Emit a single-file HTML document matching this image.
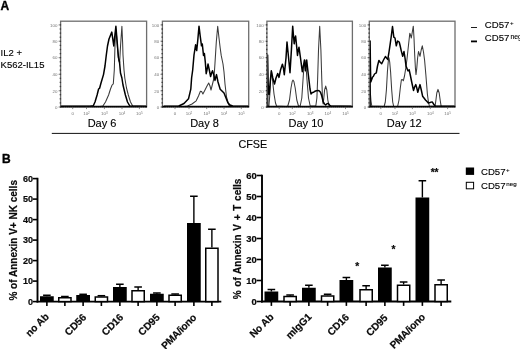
<!DOCTYPE html>
<html><head><meta charset="utf-8"><title>Figure</title>
<style>
html,body{margin:0;padding:0;background:#fff;}
body{width:520px;height:349px;overflow:hidden;}
svg{display:block;font-family:"Liberation Sans",Arial,sans-serif;}
.b{font-weight:bold;}
.tk{font-size:4.4px;fill:#747474;}
.day{font-size:11px;fill:#000;stroke:#000;stroke-width:0.12px;}
.yl{font-weight:bold;fill:#0a0a0a;stroke:#0a0a0a;stroke-width:0.2px;}
.xl{font-size:10.2px;font-weight:bold;fill:#0a0a0a;stroke:#0a0a0a;stroke-width:0.2px;}
.yt{font-weight:bold;fill:#0a0a0a;stroke:#0a0a0a;stroke-width:0.2px;}
.lg{font-size:9.6px;fill:#000;stroke:#000;stroke-width:0.12px;}
</style></head><body>
<svg width="520" height="349" viewBox="0 0 520 349">
<rect x="0" y="0" width="520" height="349" fill="#fff"/>

<text x="0.5" y="9.7" class="b" font-size="12px" fill="#000" stroke="#000" stroke-width="0.35">A</text>
<text x="2.1" y="163.2" class="b" font-size="12px" fill="#000" stroke="#000" stroke-width="0.35">B</text>
<text x="0.6" y="56.4" font-size="9.5px" fill="#000" stroke="#000" stroke-width="0.12">IL2 +</text>
<text x="0.6" y="68.1" font-size="9.5px" fill="#000" stroke="#000" stroke-width="0.12">K562-IL15</text>
<g>
<polyline points="61.0,106.5 100.0,106.5 102.9,106.0 105.5,102.0 108.6,95.0 110.5,89.0 112.1,85.0 113.3,83.8 114.3,70.0 115.0,45.0 115.6,28.5 116.6,36.0 117.5,48.0 118.6,60.0 119.6,63.0 120.6,45.0 121.9,26.3 122.6,42.0 123.0,55.0 124.0,70.0 124.8,78.0 126.5,88.0 128.3,95.0 130.5,102.0 132.7,106.0 146.0,106.5" fill="none" stroke="#3a3a3a" stroke-width="1.05" stroke-linejoin="round"/>
<polyline points="61.0,106.3 90.0,106.3 93.3,105.8 95.0,102.0 97.1,95.0 98.6,89.0 99.6,88.2 101.0,83.0 103.5,74.6 105.0,66.0 106.3,55.0 107.5,46.0 109.0,39.0 111.8,32.1 113.8,46.0 114.6,38.0 115.9,26.3 117.0,40.0 118.4,57.0 119.5,62.0 120.5,73.0 121.9,78.0 123.0,85.0 125.4,95.0 127.5,102.0 129.8,106.0 146.0,106.3" fill="none" stroke="#000" stroke-width="1.5" stroke-linejoin="round"/>
<rect x="60.6" y="21.2" width="86.0" height="85.6" fill="none" stroke="#6e6e6e" stroke-width="1.3"/>
<line x1="60.2" y1="106.6" x2="147.0" y2="106.6" stroke="#000" stroke-width="1.7"/>
<line x1="58.4" y1="24.9" x2="60.6" y2="24.9" stroke="#777" stroke-width="0.6"/>
<text x="57.4" y="26.6" class="tk" text-anchor="end">100</text>
<line x1="58.4" y1="41.2" x2="60.6" y2="41.2" stroke="#777" stroke-width="0.6"/>
<text x="57.4" y="42.9" class="tk" text-anchor="end">80</text>
<line x1="58.4" y1="57.7" x2="60.6" y2="57.7" stroke="#777" stroke-width="0.6"/>
<text x="57.4" y="59.4" class="tk" text-anchor="end">60</text>
<line x1="58.4" y1="74.3" x2="60.6" y2="74.3" stroke="#777" stroke-width="0.6"/>
<text x="57.4" y="76.0" class="tk" text-anchor="end">40</text>
<line x1="58.4" y1="90.8" x2="60.6" y2="90.8" stroke="#777" stroke-width="0.6"/>
<text x="57.4" y="92.5" class="tk" text-anchor="end">20</text>
<line x1="58.4" y1="107.0" x2="60.6" y2="107.0" stroke="#777" stroke-width="0.6"/>
<text x="57.4" y="108.7" class="tk" text-anchor="end">0</text>
<line x1="59.7" y1="24.9" x2="61.1" y2="24.9" stroke="#3a3a3a" stroke-width="1.3"/>
<line x1="59.7" y1="29.0" x2="61.1" y2="29.0" stroke="#3a3a3a" stroke-width="1.3"/>
<line x1="59.7" y1="33.1" x2="61.1" y2="33.1" stroke="#3a3a3a" stroke-width="1.3"/>
<line x1="59.7" y1="37.2" x2="61.1" y2="37.2" stroke="#3a3a3a" stroke-width="1.3"/>
<line x1="59.7" y1="41.3" x2="61.1" y2="41.3" stroke="#3a3a3a" stroke-width="1.3"/>
<line x1="59.7" y1="45.4" x2="61.1" y2="45.4" stroke="#3a3a3a" stroke-width="1.3"/>
<line x1="59.7" y1="49.5" x2="61.1" y2="49.5" stroke="#3a3a3a" stroke-width="1.3"/>
<line x1="59.7" y1="53.6" x2="61.1" y2="53.6" stroke="#3a3a3a" stroke-width="1.3"/>
<line x1="59.7" y1="57.7" x2="61.1" y2="57.7" stroke="#3a3a3a" stroke-width="1.3"/>
<line x1="59.7" y1="61.8" x2="61.1" y2="61.8" stroke="#3a3a3a" stroke-width="1.3"/>
<line x1="59.7" y1="65.9" x2="61.1" y2="65.9" stroke="#3a3a3a" stroke-width="1.3"/>
<line x1="59.7" y1="70.1" x2="61.1" y2="70.1" stroke="#3a3a3a" stroke-width="1.3"/>
<line x1="59.7" y1="74.2" x2="61.1" y2="74.2" stroke="#3a3a3a" stroke-width="1.3"/>
<line x1="59.7" y1="78.3" x2="61.1" y2="78.3" stroke="#3a3a3a" stroke-width="1.3"/>
<line x1="59.7" y1="82.4" x2="61.1" y2="82.4" stroke="#3a3a3a" stroke-width="1.3"/>
<line x1="59.7" y1="86.5" x2="61.1" y2="86.5" stroke="#3a3a3a" stroke-width="1.3"/>
<line x1="59.7" y1="90.6" x2="61.1" y2="90.6" stroke="#3a3a3a" stroke-width="1.3"/>
<line x1="59.7" y1="94.7" x2="61.1" y2="94.7" stroke="#3a3a3a" stroke-width="1.3"/>
<line x1="59.7" y1="98.8" x2="61.1" y2="98.8" stroke="#3a3a3a" stroke-width="1.3"/>
<line x1="59.7" y1="102.9" x2="61.1" y2="102.9" stroke="#3a3a3a" stroke-width="1.3"/>
<line x1="59.7" y1="107.0" x2="61.1" y2="107.0" stroke="#3a3a3a" stroke-width="1.3"/>
<text x="72.7" y="115.2" class="tk" text-anchor="middle">0</text>
<line x1="72.7" y1="106.8" x2="72.7" y2="109.1" stroke="#555" stroke-width="0.7"/>
<text x="86.5" y="115.2" class="tk" text-anchor="middle">10<tspan dy="-1.6" font-size="3px">2</tspan></text>
<line x1="86.5" y1="106.8" x2="86.5" y2="109.1" stroke="#555" stroke-width="0.7"/>
<text x="104.4" y="115.2" class="tk" text-anchor="middle">10<tspan dy="-1.6" font-size="3px">3</tspan></text>
<line x1="104.4" y1="106.8" x2="104.4" y2="109.1" stroke="#555" stroke-width="0.7"/>
<text x="122.0" y="115.2" class="tk" text-anchor="middle">10<tspan dy="-1.6" font-size="3px">4</tspan></text>
<line x1="122.0" y1="106.8" x2="122.0" y2="109.1" stroke="#555" stroke-width="0.7"/>
<text x="139.4" y="115.2" class="tk" text-anchor="middle">10<tspan dy="-1.6" font-size="3px">5</tspan></text>
<line x1="139.4" y1="106.8" x2="139.4" y2="109.1" stroke="#555" stroke-width="0.7"/>
<line x1="64.6" y1="106.8" x2="64.6" y2="107.9" stroke="#aaa" stroke-width="0.35"/>
<line x1="66.6" y1="106.8" x2="66.6" y2="107.9" stroke="#aaa" stroke-width="0.35"/>
<line x1="68.7" y1="106.8" x2="68.7" y2="107.9" stroke="#aaa" stroke-width="0.35"/>
<line x1="70.8" y1="106.8" x2="70.8" y2="107.9" stroke="#aaa" stroke-width="0.35"/>
<line x1="72.8" y1="106.8" x2="72.8" y2="107.9" stroke="#aaa" stroke-width="0.35"/>
<line x1="74.8" y1="106.8" x2="74.8" y2="107.9" stroke="#aaa" stroke-width="0.35"/>
<line x1="76.9" y1="106.8" x2="76.9" y2="107.9" stroke="#aaa" stroke-width="0.35"/>
<line x1="78.9" y1="106.8" x2="78.9" y2="107.9" stroke="#aaa" stroke-width="0.35"/>
<line x1="81.0" y1="106.8" x2="81.0" y2="107.9" stroke="#aaa" stroke-width="0.35"/>
<line x1="83.0" y1="106.8" x2="83.0" y2="107.9" stroke="#aaa" stroke-width="0.35"/>
<line x1="85.1" y1="106.8" x2="85.1" y2="107.9" stroke="#aaa" stroke-width="0.35"/>
<line x1="87.1" y1="106.8" x2="87.1" y2="107.9" stroke="#aaa" stroke-width="0.35"/>
<line x1="89.2" y1="106.8" x2="89.2" y2="107.9" stroke="#aaa" stroke-width="0.35"/>
<line x1="91.2" y1="106.8" x2="91.2" y2="107.9" stroke="#aaa" stroke-width="0.35"/>
<line x1="93.3" y1="106.8" x2="93.3" y2="107.9" stroke="#aaa" stroke-width="0.35"/>
<line x1="95.3" y1="106.8" x2="95.3" y2="107.9" stroke="#aaa" stroke-width="0.35"/>
<line x1="97.4" y1="106.8" x2="97.4" y2="107.9" stroke="#aaa" stroke-width="0.35"/>
<line x1="99.4" y1="106.8" x2="99.4" y2="107.9" stroke="#aaa" stroke-width="0.35"/>
<line x1="101.5" y1="106.8" x2="101.5" y2="107.9" stroke="#aaa" stroke-width="0.35"/>
<line x1="103.5" y1="106.8" x2="103.5" y2="107.9" stroke="#aaa" stroke-width="0.35"/>
<line x1="105.6" y1="106.8" x2="105.6" y2="107.9" stroke="#aaa" stroke-width="0.35"/>
<line x1="107.6" y1="106.8" x2="107.6" y2="107.9" stroke="#aaa" stroke-width="0.35"/>
<line x1="109.7" y1="106.8" x2="109.7" y2="107.9" stroke="#aaa" stroke-width="0.35"/>
<line x1="111.8" y1="106.8" x2="111.8" y2="107.9" stroke="#aaa" stroke-width="0.35"/>
<line x1="113.8" y1="106.8" x2="113.8" y2="107.9" stroke="#aaa" stroke-width="0.35"/>
<line x1="115.8" y1="106.8" x2="115.8" y2="107.9" stroke="#aaa" stroke-width="0.35"/>
<line x1="117.9" y1="106.8" x2="117.9" y2="107.9" stroke="#aaa" stroke-width="0.35"/>
<line x1="119.9" y1="106.8" x2="119.9" y2="107.9" stroke="#aaa" stroke-width="0.35"/>
<line x1="122.0" y1="106.8" x2="122.0" y2="107.9" stroke="#aaa" stroke-width="0.35"/>
<line x1="124.0" y1="106.8" x2="124.0" y2="107.9" stroke="#aaa" stroke-width="0.35"/>
<line x1="126.1" y1="106.8" x2="126.1" y2="107.9" stroke="#aaa" stroke-width="0.35"/>
<line x1="128.1" y1="106.8" x2="128.1" y2="107.9" stroke="#aaa" stroke-width="0.35"/>
<line x1="130.2" y1="106.8" x2="130.2" y2="107.9" stroke="#aaa" stroke-width="0.35"/>
<line x1="132.2" y1="106.8" x2="132.2" y2="107.9" stroke="#aaa" stroke-width="0.35"/>
<line x1="134.3" y1="106.8" x2="134.3" y2="107.9" stroke="#aaa" stroke-width="0.35"/>
<line x1="136.3" y1="106.8" x2="136.3" y2="107.9" stroke="#aaa" stroke-width="0.35"/>
<line x1="138.4" y1="106.8" x2="138.4" y2="107.9" stroke="#aaa" stroke-width="0.35"/>
<line x1="140.4" y1="106.8" x2="140.4" y2="107.9" stroke="#aaa" stroke-width="0.35"/>
<line x1="142.5" y1="106.8" x2="142.5" y2="107.9" stroke="#aaa" stroke-width="0.35"/>
<line x1="144.5" y1="106.8" x2="144.5" y2="107.9" stroke="#aaa" stroke-width="0.35"/>
<text x="102.0" y="126.9" class="day" text-anchor="middle">Day 6</text>
</g>
<g>
<polyline points="163.8,106.5 184.0,106.5 187.5,106.0 192.0,104.0 196.2,100.8 198.5,96.0 200.4,91.2 201.6,91.5 202.9,94.0 205.0,90.0 207.0,86.0 208.7,83.0 210.0,86.0 211.0,90.0 212.5,84.0 213.5,80.0 214.4,72.0 215.0,63.0 216.3,42.0 217.7,26.2 219.0,38.0 220.2,48.0 221.2,55.4 223.0,64.0 224.0,72.0 225.0,84.0 226.5,97.0 228.8,105.0 231.0,106.5 249.0,106.5" fill="none" stroke="#3a3a3a" stroke-width="1.05" stroke-linejoin="round"/>
<polyline points="163.8,106.3 175.0,106.3 178.8,106.0 184.0,103.5 188.5,98.8 190.8,89.2 191.6,78.0 192.7,70.0 194.0,55.0 195.6,44.8 196.7,50.6 197.8,40.0 199.0,26.2 200.2,36.0 201.5,45.8 202.3,44.0 203.5,55.4 204.4,53.5 205.3,62.0 206.2,73.7 207.0,70.0 208.0,64.0 209.3,70.0 210.6,76.5 211.6,73.0 212.5,70.8 213.8,75.0 215.0,80.4 215.8,77.0 216.5,74.6 218.0,82.0 220.2,89.2 222.0,91.0 224.0,93.0 226.0,98.0 227.9,102.7 230.0,105.0 232.7,106.0 249.0,106.3" fill="none" stroke="#000" stroke-width="1.5" stroke-linejoin="round"/>
<rect x="162.4" y="21.2" width="86.3" height="85.6" fill="none" stroke="#6e6e6e" stroke-width="1.3"/>
<line x1="162.0" y1="106.6" x2="249.1" y2="106.6" stroke="#000" stroke-width="1.7"/>
<line x1="160.2" y1="24.9" x2="162.4" y2="24.9" stroke="#777" stroke-width="0.6"/>
<text x="159.2" y="26.6" class="tk" text-anchor="end">100</text>
<line x1="160.2" y1="41.2" x2="162.4" y2="41.2" stroke="#777" stroke-width="0.6"/>
<text x="159.2" y="42.9" class="tk" text-anchor="end">80</text>
<line x1="160.2" y1="57.7" x2="162.4" y2="57.7" stroke="#777" stroke-width="0.6"/>
<text x="159.2" y="59.4" class="tk" text-anchor="end">60</text>
<line x1="160.2" y1="74.3" x2="162.4" y2="74.3" stroke="#777" stroke-width="0.6"/>
<text x="159.2" y="76.0" class="tk" text-anchor="end">40</text>
<line x1="160.2" y1="90.8" x2="162.4" y2="90.8" stroke="#777" stroke-width="0.6"/>
<text x="159.2" y="92.5" class="tk" text-anchor="end">20</text>
<line x1="160.2" y1="107.0" x2="162.4" y2="107.0" stroke="#777" stroke-width="0.6"/>
<text x="159.2" y="108.7" class="tk" text-anchor="end">0</text>
<line x1="161.5" y1="24.9" x2="162.9" y2="24.9" stroke="#3a3a3a" stroke-width="1.3"/>
<line x1="161.5" y1="29.0" x2="162.9" y2="29.0" stroke="#3a3a3a" stroke-width="1.3"/>
<line x1="161.5" y1="33.1" x2="162.9" y2="33.1" stroke="#3a3a3a" stroke-width="1.3"/>
<line x1="161.5" y1="37.2" x2="162.9" y2="37.2" stroke="#3a3a3a" stroke-width="1.3"/>
<line x1="161.5" y1="41.3" x2="162.9" y2="41.3" stroke="#3a3a3a" stroke-width="1.3"/>
<line x1="161.5" y1="45.4" x2="162.9" y2="45.4" stroke="#3a3a3a" stroke-width="1.3"/>
<line x1="161.5" y1="49.5" x2="162.9" y2="49.5" stroke="#3a3a3a" stroke-width="1.3"/>
<line x1="161.5" y1="53.6" x2="162.9" y2="53.6" stroke="#3a3a3a" stroke-width="1.3"/>
<line x1="161.5" y1="57.7" x2="162.9" y2="57.7" stroke="#3a3a3a" stroke-width="1.3"/>
<line x1="161.5" y1="61.8" x2="162.9" y2="61.8" stroke="#3a3a3a" stroke-width="1.3"/>
<line x1="161.5" y1="65.9" x2="162.9" y2="65.9" stroke="#3a3a3a" stroke-width="1.3"/>
<line x1="161.5" y1="70.1" x2="162.9" y2="70.1" stroke="#3a3a3a" stroke-width="1.3"/>
<line x1="161.5" y1="74.2" x2="162.9" y2="74.2" stroke="#3a3a3a" stroke-width="1.3"/>
<line x1="161.5" y1="78.3" x2="162.9" y2="78.3" stroke="#3a3a3a" stroke-width="1.3"/>
<line x1="161.5" y1="82.4" x2="162.9" y2="82.4" stroke="#3a3a3a" stroke-width="1.3"/>
<line x1="161.5" y1="86.5" x2="162.9" y2="86.5" stroke="#3a3a3a" stroke-width="1.3"/>
<line x1="161.5" y1="90.6" x2="162.9" y2="90.6" stroke="#3a3a3a" stroke-width="1.3"/>
<line x1="161.5" y1="94.7" x2="162.9" y2="94.7" stroke="#3a3a3a" stroke-width="1.3"/>
<line x1="161.5" y1="98.8" x2="162.9" y2="98.8" stroke="#3a3a3a" stroke-width="1.3"/>
<line x1="161.5" y1="102.9" x2="162.9" y2="102.9" stroke="#3a3a3a" stroke-width="1.3"/>
<line x1="161.5" y1="107.0" x2="162.9" y2="107.0" stroke="#3a3a3a" stroke-width="1.3"/>
<text x="175.0" y="115.2" class="tk" text-anchor="middle">0</text>
<line x1="175.0" y1="106.8" x2="175.0" y2="109.1" stroke="#555" stroke-width="0.7"/>
<text x="189.0" y="115.2" class="tk" text-anchor="middle">10<tspan dy="-1.6" font-size="3px">2</tspan></text>
<line x1="189.0" y1="106.8" x2="189.0" y2="109.1" stroke="#555" stroke-width="0.7"/>
<text x="206.7" y="115.2" class="tk" text-anchor="middle">10<tspan dy="-1.6" font-size="3px">3</tspan></text>
<line x1="206.7" y1="106.8" x2="206.7" y2="109.1" stroke="#555" stroke-width="0.7"/>
<text x="224.0" y="115.2" class="tk" text-anchor="middle">10<tspan dy="-1.6" font-size="3px">4</tspan></text>
<line x1="224.0" y1="106.8" x2="224.0" y2="109.1" stroke="#555" stroke-width="0.7"/>
<text x="241.3" y="115.2" class="tk" text-anchor="middle">10<tspan dy="-1.6" font-size="3px">5</tspan></text>
<line x1="241.3" y1="106.8" x2="241.3" y2="109.1" stroke="#555" stroke-width="0.7"/>
<line x1="166.4" y1="106.8" x2="166.4" y2="107.9" stroke="#aaa" stroke-width="0.35"/>
<line x1="168.5" y1="106.8" x2="168.5" y2="107.9" stroke="#aaa" stroke-width="0.35"/>
<line x1="170.5" y1="106.8" x2="170.5" y2="107.9" stroke="#aaa" stroke-width="0.35"/>
<line x1="172.6" y1="106.8" x2="172.6" y2="107.9" stroke="#aaa" stroke-width="0.35"/>
<line x1="174.6" y1="106.8" x2="174.6" y2="107.9" stroke="#aaa" stroke-width="0.35"/>
<line x1="176.7" y1="106.8" x2="176.7" y2="107.9" stroke="#aaa" stroke-width="0.35"/>
<line x1="178.7" y1="106.8" x2="178.7" y2="107.9" stroke="#aaa" stroke-width="0.35"/>
<line x1="180.8" y1="106.8" x2="180.8" y2="107.9" stroke="#aaa" stroke-width="0.35"/>
<line x1="182.8" y1="106.8" x2="182.8" y2="107.9" stroke="#aaa" stroke-width="0.35"/>
<line x1="184.8" y1="106.8" x2="184.8" y2="107.9" stroke="#aaa" stroke-width="0.35"/>
<line x1="186.9" y1="106.8" x2="186.9" y2="107.9" stroke="#aaa" stroke-width="0.35"/>
<line x1="188.9" y1="106.8" x2="188.9" y2="107.9" stroke="#aaa" stroke-width="0.35"/>
<line x1="191.0" y1="106.8" x2="191.0" y2="107.9" stroke="#aaa" stroke-width="0.35"/>
<line x1="193.1" y1="106.8" x2="193.1" y2="107.9" stroke="#aaa" stroke-width="0.35"/>
<line x1="195.1" y1="106.8" x2="195.1" y2="107.9" stroke="#aaa" stroke-width="0.35"/>
<line x1="197.2" y1="106.8" x2="197.2" y2="107.9" stroke="#aaa" stroke-width="0.35"/>
<line x1="199.2" y1="106.8" x2="199.2" y2="107.9" stroke="#aaa" stroke-width="0.35"/>
<line x1="201.2" y1="106.8" x2="201.2" y2="107.9" stroke="#aaa" stroke-width="0.35"/>
<line x1="203.3" y1="106.8" x2="203.3" y2="107.9" stroke="#aaa" stroke-width="0.35"/>
<line x1="205.3" y1="106.8" x2="205.3" y2="107.9" stroke="#aaa" stroke-width="0.35"/>
<line x1="207.4" y1="106.8" x2="207.4" y2="107.9" stroke="#aaa" stroke-width="0.35"/>
<line x1="209.4" y1="106.8" x2="209.4" y2="107.9" stroke="#aaa" stroke-width="0.35"/>
<line x1="211.5" y1="106.8" x2="211.5" y2="107.9" stroke="#aaa" stroke-width="0.35"/>
<line x1="213.6" y1="106.8" x2="213.6" y2="107.9" stroke="#aaa" stroke-width="0.35"/>
<line x1="215.6" y1="106.8" x2="215.6" y2="107.9" stroke="#aaa" stroke-width="0.35"/>
<line x1="217.7" y1="106.8" x2="217.7" y2="107.9" stroke="#aaa" stroke-width="0.35"/>
<line x1="219.7" y1="106.8" x2="219.7" y2="107.9" stroke="#aaa" stroke-width="0.35"/>
<line x1="221.8" y1="106.8" x2="221.8" y2="107.9" stroke="#aaa" stroke-width="0.35"/>
<line x1="223.8" y1="106.8" x2="223.8" y2="107.9" stroke="#aaa" stroke-width="0.35"/>
<line x1="225.8" y1="106.8" x2="225.8" y2="107.9" stroke="#aaa" stroke-width="0.35"/>
<line x1="227.9" y1="106.8" x2="227.9" y2="107.9" stroke="#aaa" stroke-width="0.35"/>
<line x1="229.9" y1="106.8" x2="229.9" y2="107.9" stroke="#aaa" stroke-width="0.35"/>
<line x1="232.0" y1="106.8" x2="232.0" y2="107.9" stroke="#aaa" stroke-width="0.35"/>
<line x1="234.1" y1="106.8" x2="234.1" y2="107.9" stroke="#aaa" stroke-width="0.35"/>
<line x1="236.1" y1="106.8" x2="236.1" y2="107.9" stroke="#aaa" stroke-width="0.35"/>
<line x1="238.2" y1="106.8" x2="238.2" y2="107.9" stroke="#aaa" stroke-width="0.35"/>
<line x1="240.2" y1="106.8" x2="240.2" y2="107.9" stroke="#aaa" stroke-width="0.35"/>
<line x1="242.2" y1="106.8" x2="242.2" y2="107.9" stroke="#aaa" stroke-width="0.35"/>
<line x1="244.3" y1="106.8" x2="244.3" y2="107.9" stroke="#aaa" stroke-width="0.35"/>
<line x1="246.3" y1="106.8" x2="246.3" y2="107.9" stroke="#aaa" stroke-width="0.35"/>
<text x="204.5" y="126.9" class="day" text-anchor="middle">Day 8</text>
</g>
<g>
<polyline points="267.0,106.5 268.9,106.0 269.8,95.0 270.6,80.0 271.5,71.0 272.5,80.0 274.0,94.0 275.5,103.0 276.6,106.0 286.5,106.5 287.8,106.0 289.5,100.0 291.0,88.0 292.2,81.5 293.0,80.1 293.9,81.5 295.2,88.0 296.8,100.0 298.5,106.0 300.2,106.0 301.8,98.0 303.0,80.0 304.0,66.0 305.0,60.0 306.0,66.0 307.0,80.0 308.5,98.0 310.2,106.0 315.8,106.0 316.9,98.0 317.6,80.0 318.5,50.0 319.7,26.2 320.9,50.0 321.8,80.0 322.5,98.0 323.1,104.0 323.6,100.0 324.6,90.0 325.7,86.1 326.8,90.0 327.8,100.0 329.1,106.0 351.5,106.5" fill="none" stroke="#3a3a3a" stroke-width="1.05" stroke-linejoin="round"/>
<polyline points="267.7,106.0 267.6,55.0 268.2,85.0 269.2,94.5 270.2,82.0 271.3,70.8 272.8,78.0 274.5,84.0 276.0,78.0 277.7,73.4 279.0,77.4 280.5,70.0 282.4,64.2 283.4,68.0 284.3,74.7 286.0,58.0 287.0,42.0 288.4,56.0 290.0,72.7 291.4,50.0 292.7,26.2 293.5,36.0 294.2,43.8 295.0,38.0 295.6,36.0 296.6,46.0 297.5,55.4 298.3,50.0 299.0,47.3 300.5,58.0 302.3,71.7 303.4,66.0 304.4,60.0 305.4,70.8 306.7,60.0 308.0,72.0 309.2,82.0 310.0,89.0 311.0,93.9 312.4,92.5 313.6,92.2 315.5,91.0 317.9,90.4 319.4,91.0 320.5,92.2 321.8,96.0 323.1,101.6 324.5,104.0 325.7,105.0 327.0,103.8 328.3,103.4 329.5,105.0 330.8,106.0 351.5,106.3" fill="none" stroke="#000" stroke-width="1.5" stroke-linejoin="round"/>
<rect x="266.9" y="21.2" width="85.5" height="85.6" fill="none" stroke="#6e6e6e" stroke-width="1.3"/>
<line x1="266.5" y1="106.6" x2="352.8" y2="106.6" stroke="#000" stroke-width="1.7"/>
<line x1="264.7" y1="24.9" x2="266.9" y2="24.9" stroke="#777" stroke-width="0.6"/>
<text x="263.7" y="26.6" class="tk" text-anchor="end">100</text>
<line x1="264.7" y1="41.2" x2="266.9" y2="41.2" stroke="#777" stroke-width="0.6"/>
<text x="263.7" y="42.9" class="tk" text-anchor="end">80</text>
<line x1="264.7" y1="57.7" x2="266.9" y2="57.7" stroke="#777" stroke-width="0.6"/>
<text x="263.7" y="59.4" class="tk" text-anchor="end">60</text>
<line x1="264.7" y1="74.3" x2="266.9" y2="74.3" stroke="#777" stroke-width="0.6"/>
<text x="263.7" y="76.0" class="tk" text-anchor="end">40</text>
<line x1="264.7" y1="90.8" x2="266.9" y2="90.8" stroke="#777" stroke-width="0.6"/>
<text x="263.7" y="92.5" class="tk" text-anchor="end">20</text>
<line x1="264.7" y1="107.0" x2="266.9" y2="107.0" stroke="#777" stroke-width="0.6"/>
<text x="263.7" y="108.7" class="tk" text-anchor="end">0</text>
<line x1="266.0" y1="24.9" x2="267.4" y2="24.9" stroke="#3a3a3a" stroke-width="1.3"/>
<line x1="266.0" y1="29.0" x2="267.4" y2="29.0" stroke="#3a3a3a" stroke-width="1.3"/>
<line x1="266.0" y1="33.1" x2="267.4" y2="33.1" stroke="#3a3a3a" stroke-width="1.3"/>
<line x1="266.0" y1="37.2" x2="267.4" y2="37.2" stroke="#3a3a3a" stroke-width="1.3"/>
<line x1="266.0" y1="41.3" x2="267.4" y2="41.3" stroke="#3a3a3a" stroke-width="1.3"/>
<line x1="266.0" y1="45.4" x2="267.4" y2="45.4" stroke="#3a3a3a" stroke-width="1.3"/>
<line x1="266.0" y1="49.5" x2="267.4" y2="49.5" stroke="#3a3a3a" stroke-width="1.3"/>
<line x1="266.0" y1="53.6" x2="267.4" y2="53.6" stroke="#3a3a3a" stroke-width="1.3"/>
<line x1="266.0" y1="57.7" x2="267.4" y2="57.7" stroke="#3a3a3a" stroke-width="1.3"/>
<line x1="266.0" y1="61.8" x2="267.4" y2="61.8" stroke="#3a3a3a" stroke-width="1.3"/>
<line x1="266.0" y1="65.9" x2="267.4" y2="65.9" stroke="#3a3a3a" stroke-width="1.3"/>
<line x1="266.0" y1="70.1" x2="267.4" y2="70.1" stroke="#3a3a3a" stroke-width="1.3"/>
<line x1="266.0" y1="74.2" x2="267.4" y2="74.2" stroke="#3a3a3a" stroke-width="1.3"/>
<line x1="266.0" y1="78.3" x2="267.4" y2="78.3" stroke="#3a3a3a" stroke-width="1.3"/>
<line x1="266.0" y1="82.4" x2="267.4" y2="82.4" stroke="#3a3a3a" stroke-width="1.3"/>
<line x1="266.0" y1="86.5" x2="267.4" y2="86.5" stroke="#3a3a3a" stroke-width="1.3"/>
<line x1="266.0" y1="90.6" x2="267.4" y2="90.6" stroke="#3a3a3a" stroke-width="1.3"/>
<line x1="266.0" y1="94.7" x2="267.4" y2="94.7" stroke="#3a3a3a" stroke-width="1.3"/>
<line x1="266.0" y1="98.8" x2="267.4" y2="98.8" stroke="#3a3a3a" stroke-width="1.3"/>
<line x1="266.0" y1="102.9" x2="267.4" y2="102.9" stroke="#3a3a3a" stroke-width="1.3"/>
<line x1="266.0" y1="107.0" x2="267.4" y2="107.0" stroke="#3a3a3a" stroke-width="1.3"/>
<text x="279.2" y="115.2" class="tk" text-anchor="middle">0</text>
<line x1="279.2" y1="106.8" x2="279.2" y2="109.1" stroke="#555" stroke-width="0.7"/>
<text x="292.3" y="115.2" class="tk" text-anchor="middle">10<tspan dy="-1.6" font-size="3px">2</tspan></text>
<line x1="292.3" y1="106.8" x2="292.3" y2="109.1" stroke="#555" stroke-width="0.7"/>
<text x="310.2" y="115.2" class="tk" text-anchor="middle">10<tspan dy="-1.6" font-size="3px">3</tspan></text>
<line x1="310.2" y1="106.8" x2="310.2" y2="109.1" stroke="#555" stroke-width="0.7"/>
<text x="327.9" y="115.2" class="tk" text-anchor="middle">10<tspan dy="-1.6" font-size="3px">4</tspan></text>
<line x1="327.9" y1="106.8" x2="327.9" y2="109.1" stroke="#555" stroke-width="0.7"/>
<text x="345.5" y="115.2" class="tk" text-anchor="middle">10<tspan dy="-1.6" font-size="3px">5</tspan></text>
<line x1="345.5" y1="106.8" x2="345.5" y2="109.1" stroke="#555" stroke-width="0.7"/>
<line x1="270.9" y1="106.8" x2="270.9" y2="107.9" stroke="#aaa" stroke-width="0.35"/>
<line x1="272.9" y1="106.8" x2="272.9" y2="107.9" stroke="#aaa" stroke-width="0.35"/>
<line x1="275.0" y1="106.8" x2="275.0" y2="107.9" stroke="#aaa" stroke-width="0.35"/>
<line x1="277.0" y1="106.8" x2="277.0" y2="107.9" stroke="#aaa" stroke-width="0.35"/>
<line x1="279.1" y1="106.8" x2="279.1" y2="107.9" stroke="#aaa" stroke-width="0.35"/>
<line x1="281.1" y1="106.8" x2="281.1" y2="107.9" stroke="#aaa" stroke-width="0.35"/>
<line x1="283.2" y1="106.8" x2="283.2" y2="107.9" stroke="#aaa" stroke-width="0.35"/>
<line x1="285.2" y1="106.8" x2="285.2" y2="107.9" stroke="#aaa" stroke-width="0.35"/>
<line x1="287.3" y1="106.8" x2="287.3" y2="107.9" stroke="#aaa" stroke-width="0.35"/>
<line x1="289.3" y1="106.8" x2="289.3" y2="107.9" stroke="#aaa" stroke-width="0.35"/>
<line x1="291.4" y1="106.8" x2="291.4" y2="107.9" stroke="#aaa" stroke-width="0.35"/>
<line x1="293.4" y1="106.8" x2="293.4" y2="107.9" stroke="#aaa" stroke-width="0.35"/>
<line x1="295.5" y1="106.8" x2="295.5" y2="107.9" stroke="#aaa" stroke-width="0.35"/>
<line x1="297.5" y1="106.8" x2="297.5" y2="107.9" stroke="#aaa" stroke-width="0.35"/>
<line x1="299.6" y1="106.8" x2="299.6" y2="107.9" stroke="#aaa" stroke-width="0.35"/>
<line x1="301.6" y1="106.8" x2="301.6" y2="107.9" stroke="#aaa" stroke-width="0.35"/>
<line x1="303.7" y1="106.8" x2="303.7" y2="107.9" stroke="#aaa" stroke-width="0.35"/>
<line x1="305.8" y1="106.8" x2="305.8" y2="107.9" stroke="#aaa" stroke-width="0.35"/>
<line x1="307.8" y1="106.8" x2="307.8" y2="107.9" stroke="#aaa" stroke-width="0.35"/>
<line x1="309.8" y1="106.8" x2="309.8" y2="107.9" stroke="#aaa" stroke-width="0.35"/>
<line x1="311.9" y1="106.8" x2="311.9" y2="107.9" stroke="#aaa" stroke-width="0.35"/>
<line x1="313.9" y1="106.8" x2="313.9" y2="107.9" stroke="#aaa" stroke-width="0.35"/>
<line x1="316.0" y1="106.8" x2="316.0" y2="107.9" stroke="#aaa" stroke-width="0.35"/>
<line x1="318.0" y1="106.8" x2="318.0" y2="107.9" stroke="#aaa" stroke-width="0.35"/>
<line x1="320.1" y1="106.8" x2="320.1" y2="107.9" stroke="#aaa" stroke-width="0.35"/>
<line x1="322.1" y1="106.8" x2="322.1" y2="107.9" stroke="#aaa" stroke-width="0.35"/>
<line x1="324.2" y1="106.8" x2="324.2" y2="107.9" stroke="#aaa" stroke-width="0.35"/>
<line x1="326.2" y1="106.8" x2="326.2" y2="107.9" stroke="#aaa" stroke-width="0.35"/>
<line x1="328.3" y1="106.8" x2="328.3" y2="107.9" stroke="#aaa" stroke-width="0.35"/>
<line x1="330.3" y1="106.8" x2="330.3" y2="107.9" stroke="#aaa" stroke-width="0.35"/>
<line x1="332.4" y1="106.8" x2="332.4" y2="107.9" stroke="#aaa" stroke-width="0.35"/>
<line x1="334.4" y1="106.8" x2="334.4" y2="107.9" stroke="#aaa" stroke-width="0.35"/>
<line x1="336.5" y1="106.8" x2="336.5" y2="107.9" stroke="#aaa" stroke-width="0.35"/>
<line x1="338.5" y1="106.8" x2="338.5" y2="107.9" stroke="#aaa" stroke-width="0.35"/>
<line x1="340.6" y1="106.8" x2="340.6" y2="107.9" stroke="#aaa" stroke-width="0.35"/>
<line x1="342.6" y1="106.8" x2="342.6" y2="107.9" stroke="#aaa" stroke-width="0.35"/>
<line x1="344.7" y1="106.8" x2="344.7" y2="107.9" stroke="#aaa" stroke-width="0.35"/>
<line x1="346.8" y1="106.8" x2="346.8" y2="107.9" stroke="#aaa" stroke-width="0.35"/>
<line x1="348.8" y1="106.8" x2="348.8" y2="107.9" stroke="#aaa" stroke-width="0.35"/>
<line x1="350.8" y1="106.8" x2="350.8" y2="107.9" stroke="#aaa" stroke-width="0.35"/>
<text x="306.0" y="126.9" class="day" text-anchor="middle">Day 10</text>
</g>
<g>
<polyline points="369.5,82.7 370.3,92.0 371.0,101.0 371.8,106.0 384.1,106.5 385.3,102.0 386.4,90.0 387.4,72.0 388.2,62.0 388.9,57.7 389.7,62.0 390.6,72.0 391.7,90.0 392.7,102.0 393.7,106.5 397.6,106.5 399.0,100.0 400.3,88.0 401.4,79.8 402.3,79.5 403.3,80.8 404.5,76.0 405.8,68.0 407.0,59.0 408.4,46.0 409.8,33.3 410.5,35.0 411.3,38.0 412.3,32.0 413.3,26.2 414.0,38.0 414.7,55.0 415.4,68.0 416.0,74.6 416.8,68.0 417.6,58.0 418.5,51.5 419.3,54.0 420.0,56.3 421.2,50.0 422.3,45.8 423.5,52.0 424.6,60.2 425.8,74.0 427.4,94.2 428.3,101.0 429.3,106.0 435.0,106.5 435.8,101.0 436.8,93.0 438.0,89.4 439.2,93.0 440.3,101.0 441.2,106.5 454.8,106.5" fill="none" stroke="#3a3a3a" stroke-width="1.05" stroke-linejoin="round"/>
<polyline points="370.1,106.0 370.1,41.0 370.5,70.0 370.8,82.0 372.6,77.0 373.3,76.5 374.5,74.0 376.3,72.8 377.5,66.0 378.9,60.4 380.0,62.0 381.7,63.8 383.5,60.0 385.4,56.5 386.6,58.0 387.8,59.4 389.0,52.0 390.2,43.8 391.3,36.0 392.5,26.5 393.2,32.0 393.8,37.1 395.0,38.0 396.3,45.8 397.0,43.0 397.7,41.0 399.2,42.0 400.2,46.0 401.2,50.6 402.7,56.3 404.0,51.5 405.0,58.0 406.0,66.0 407.9,70.8 409.2,69.8 410.5,76.0 411.7,82.0 413.5,90.4 414.6,87.0 415.8,84.6 416.8,88.0 417.8,92.3 419.0,88.0 420.0,84.6 421.3,90.0 422.6,96.2 424.0,98.0 425.5,100.0 427.0,101.5 428.3,102.9 430.0,102.5 432.2,101.9 433.6,104.0 435.0,106.0 454.8,106.3" fill="none" stroke="#000" stroke-width="1.5" stroke-linejoin="round"/>
<rect x="369.3" y="21.2" width="85.7" height="85.6" fill="none" stroke="#6e6e6e" stroke-width="1.3"/>
<line x1="368.9" y1="106.6" x2="455.4" y2="106.6" stroke="#000" stroke-width="1.7"/>
<line x1="367.1" y1="24.9" x2="369.3" y2="24.9" stroke="#777" stroke-width="0.6"/>
<text x="366.1" y="26.6" class="tk" text-anchor="end">100</text>
<line x1="367.1" y1="41.2" x2="369.3" y2="41.2" stroke="#777" stroke-width="0.6"/>
<text x="366.1" y="42.9" class="tk" text-anchor="end">80</text>
<line x1="367.1" y1="57.7" x2="369.3" y2="57.7" stroke="#777" stroke-width="0.6"/>
<text x="366.1" y="59.4" class="tk" text-anchor="end">60</text>
<line x1="367.1" y1="74.3" x2="369.3" y2="74.3" stroke="#777" stroke-width="0.6"/>
<text x="366.1" y="76.0" class="tk" text-anchor="end">40</text>
<line x1="367.1" y1="90.8" x2="369.3" y2="90.8" stroke="#777" stroke-width="0.6"/>
<text x="366.1" y="92.5" class="tk" text-anchor="end">20</text>
<line x1="367.1" y1="107.0" x2="369.3" y2="107.0" stroke="#777" stroke-width="0.6"/>
<text x="366.1" y="108.7" class="tk" text-anchor="end">0</text>
<line x1="368.4" y1="24.9" x2="369.8" y2="24.9" stroke="#3a3a3a" stroke-width="1.3"/>
<line x1="368.4" y1="29.0" x2="369.8" y2="29.0" stroke="#3a3a3a" stroke-width="1.3"/>
<line x1="368.4" y1="33.1" x2="369.8" y2="33.1" stroke="#3a3a3a" stroke-width="1.3"/>
<line x1="368.4" y1="37.2" x2="369.8" y2="37.2" stroke="#3a3a3a" stroke-width="1.3"/>
<line x1="368.4" y1="41.3" x2="369.8" y2="41.3" stroke="#3a3a3a" stroke-width="1.3"/>
<line x1="368.4" y1="45.4" x2="369.8" y2="45.4" stroke="#3a3a3a" stroke-width="1.3"/>
<line x1="368.4" y1="49.5" x2="369.8" y2="49.5" stroke="#3a3a3a" stroke-width="1.3"/>
<line x1="368.4" y1="53.6" x2="369.8" y2="53.6" stroke="#3a3a3a" stroke-width="1.3"/>
<line x1="368.4" y1="57.7" x2="369.8" y2="57.7" stroke="#3a3a3a" stroke-width="1.3"/>
<line x1="368.4" y1="61.8" x2="369.8" y2="61.8" stroke="#3a3a3a" stroke-width="1.3"/>
<line x1="368.4" y1="65.9" x2="369.8" y2="65.9" stroke="#3a3a3a" stroke-width="1.3"/>
<line x1="368.4" y1="70.1" x2="369.8" y2="70.1" stroke="#3a3a3a" stroke-width="1.3"/>
<line x1="368.4" y1="74.2" x2="369.8" y2="74.2" stroke="#3a3a3a" stroke-width="1.3"/>
<line x1="368.4" y1="78.3" x2="369.8" y2="78.3" stroke="#3a3a3a" stroke-width="1.3"/>
<line x1="368.4" y1="82.4" x2="369.8" y2="82.4" stroke="#3a3a3a" stroke-width="1.3"/>
<line x1="368.4" y1="86.5" x2="369.8" y2="86.5" stroke="#3a3a3a" stroke-width="1.3"/>
<line x1="368.4" y1="90.6" x2="369.8" y2="90.6" stroke="#3a3a3a" stroke-width="1.3"/>
<line x1="368.4" y1="94.7" x2="369.8" y2="94.7" stroke="#3a3a3a" stroke-width="1.3"/>
<line x1="368.4" y1="98.8" x2="369.8" y2="98.8" stroke="#3a3a3a" stroke-width="1.3"/>
<line x1="368.4" y1="102.9" x2="369.8" y2="102.9" stroke="#3a3a3a" stroke-width="1.3"/>
<line x1="368.4" y1="107.0" x2="369.8" y2="107.0" stroke="#3a3a3a" stroke-width="1.3"/>
<text x="380.8" y="115.2" class="tk" text-anchor="middle">0</text>
<line x1="380.8" y1="106.8" x2="380.8" y2="109.1" stroke="#555" stroke-width="0.7"/>
<text x="395.0" y="115.2" class="tk" text-anchor="middle">10<tspan dy="-1.6" font-size="3px">2</tspan></text>
<line x1="395.0" y1="106.8" x2="395.0" y2="109.1" stroke="#555" stroke-width="0.7"/>
<text x="412.4" y="115.2" class="tk" text-anchor="middle">10<tspan dy="-1.6" font-size="3px">3</tspan></text>
<line x1="412.4" y1="106.8" x2="412.4" y2="109.1" stroke="#555" stroke-width="0.7"/>
<text x="430.3" y="115.2" class="tk" text-anchor="middle">10<tspan dy="-1.6" font-size="3px">4</tspan></text>
<line x1="430.3" y1="106.8" x2="430.3" y2="109.1" stroke="#555" stroke-width="0.7"/>
<text x="447.6" y="115.2" class="tk" text-anchor="middle">10<tspan dy="-1.6" font-size="3px">5</tspan></text>
<line x1="447.6" y1="106.8" x2="447.6" y2="109.1" stroke="#555" stroke-width="0.7"/>
<line x1="373.3" y1="106.8" x2="373.3" y2="107.9" stroke="#aaa" stroke-width="0.35"/>
<line x1="375.4" y1="106.8" x2="375.4" y2="107.9" stroke="#aaa" stroke-width="0.35"/>
<line x1="377.4" y1="106.8" x2="377.4" y2="107.9" stroke="#aaa" stroke-width="0.35"/>
<line x1="379.4" y1="106.8" x2="379.4" y2="107.9" stroke="#aaa" stroke-width="0.35"/>
<line x1="381.5" y1="106.8" x2="381.5" y2="107.9" stroke="#aaa" stroke-width="0.35"/>
<line x1="383.6" y1="106.8" x2="383.6" y2="107.9" stroke="#aaa" stroke-width="0.35"/>
<line x1="385.6" y1="106.8" x2="385.6" y2="107.9" stroke="#aaa" stroke-width="0.35"/>
<line x1="387.7" y1="106.8" x2="387.7" y2="107.9" stroke="#aaa" stroke-width="0.35"/>
<line x1="389.7" y1="106.8" x2="389.7" y2="107.9" stroke="#aaa" stroke-width="0.35"/>
<line x1="391.8" y1="106.8" x2="391.8" y2="107.9" stroke="#aaa" stroke-width="0.35"/>
<line x1="393.8" y1="106.8" x2="393.8" y2="107.9" stroke="#aaa" stroke-width="0.35"/>
<line x1="395.9" y1="106.8" x2="395.9" y2="107.9" stroke="#aaa" stroke-width="0.35"/>
<line x1="397.9" y1="106.8" x2="397.9" y2="107.9" stroke="#aaa" stroke-width="0.35"/>
<line x1="399.9" y1="106.8" x2="399.9" y2="107.9" stroke="#aaa" stroke-width="0.35"/>
<line x1="402.0" y1="106.8" x2="402.0" y2="107.9" stroke="#aaa" stroke-width="0.35"/>
<line x1="404.1" y1="106.8" x2="404.1" y2="107.9" stroke="#aaa" stroke-width="0.35"/>
<line x1="406.1" y1="106.8" x2="406.1" y2="107.9" stroke="#aaa" stroke-width="0.35"/>
<line x1="408.1" y1="106.8" x2="408.1" y2="107.9" stroke="#aaa" stroke-width="0.35"/>
<line x1="410.2" y1="106.8" x2="410.2" y2="107.9" stroke="#aaa" stroke-width="0.35"/>
<line x1="412.2" y1="106.8" x2="412.2" y2="107.9" stroke="#aaa" stroke-width="0.35"/>
<line x1="414.3" y1="106.8" x2="414.3" y2="107.9" stroke="#aaa" stroke-width="0.35"/>
<line x1="416.4" y1="106.8" x2="416.4" y2="107.9" stroke="#aaa" stroke-width="0.35"/>
<line x1="418.4" y1="106.8" x2="418.4" y2="107.9" stroke="#aaa" stroke-width="0.35"/>
<line x1="420.4" y1="106.8" x2="420.4" y2="107.9" stroke="#aaa" stroke-width="0.35"/>
<line x1="422.5" y1="106.8" x2="422.5" y2="107.9" stroke="#aaa" stroke-width="0.35"/>
<line x1="424.6" y1="106.8" x2="424.6" y2="107.9" stroke="#aaa" stroke-width="0.35"/>
<line x1="426.6" y1="106.8" x2="426.6" y2="107.9" stroke="#aaa" stroke-width="0.35"/>
<line x1="428.6" y1="106.8" x2="428.6" y2="107.9" stroke="#aaa" stroke-width="0.35"/>
<line x1="430.7" y1="106.8" x2="430.7" y2="107.9" stroke="#aaa" stroke-width="0.35"/>
<line x1="432.8" y1="106.8" x2="432.8" y2="107.9" stroke="#aaa" stroke-width="0.35"/>
<line x1="434.8" y1="106.8" x2="434.8" y2="107.9" stroke="#aaa" stroke-width="0.35"/>
<line x1="436.9" y1="106.8" x2="436.9" y2="107.9" stroke="#aaa" stroke-width="0.35"/>
<line x1="438.9" y1="106.8" x2="438.9" y2="107.9" stroke="#aaa" stroke-width="0.35"/>
<line x1="440.9" y1="106.8" x2="440.9" y2="107.9" stroke="#aaa" stroke-width="0.35"/>
<line x1="443.0" y1="106.8" x2="443.0" y2="107.9" stroke="#aaa" stroke-width="0.35"/>
<line x1="445.1" y1="106.8" x2="445.1" y2="107.9" stroke="#aaa" stroke-width="0.35"/>
<line x1="447.1" y1="106.8" x2="447.1" y2="107.9" stroke="#aaa" stroke-width="0.35"/>
<line x1="449.1" y1="106.8" x2="449.1" y2="107.9" stroke="#aaa" stroke-width="0.35"/>
<line x1="451.2" y1="106.8" x2="451.2" y2="107.9" stroke="#aaa" stroke-width="0.35"/>
<line x1="453.2" y1="106.8" x2="453.2" y2="107.9" stroke="#aaa" stroke-width="0.35"/>
<text x="404.3" y="126.9" class="day" text-anchor="middle">Day 12</text>
</g>
<line x1="51.8" y1="133.4" x2="459.5" y2="133.4" stroke="#111" stroke-width="1"/>
<text x="238.4" y="148.3" font-size="10.8px" fill="#000" stroke="#000" stroke-width="0.12">CFSE</text>
<line x1="471" y1="27.5" x2="477" y2="27.5" stroke="#111" stroke-width="0.95"/>
<line x1="471" y1="41.4" x2="477" y2="41.4" stroke="#000" stroke-width="1.8"/>
<text x="484.8" y="27.8" class="lg">CD57<tspan dx="0.6" dy="-2.8" font-size="6.2px">+</tspan></text>
<text x="484.8" y="41.4" class="lg">CD57<tspan dx="1.2" dy="-2.6" font-size="6.8px">neg</tspan></text>
<rect x="465.8" y="167.5" width="8.3" height="7.4" fill="#000"/>
<rect x="466.3" y="182.3" width="7.3" height="6.5" fill="#fff" stroke="#000" stroke-width="1"/>
<text x="481" y="174.9" class="lg">CD57<tspan dx="0.5" dy="-3.0" font-size="6.2px">+</tspan></text>
<text x="481" y="188.7" class="lg">CD57<tspan dx="0.8" dy="-3.0" font-size="6.2px">neg</tspan></text>
<line x1="37.50" y1="177.80" x2="37.50" y2="302.50" stroke="#000" stroke-width="1.9"/>
<line x1="36.60" y1="301.60" x2="221.30" y2="301.60" stroke="#000" stroke-width="1.8"/>
<line x1="32.80" y1="301.60" x2="37.50" y2="301.60" stroke="#000" stroke-width="1.6"/>
<text x="32.90" y="304.90" class="yt" font-size="9.0px" text-anchor="end">0</text>
<line x1="32.80" y1="281.10" x2="37.50" y2="281.10" stroke="#000" stroke-width="1.6"/>
<text x="32.90" y="284.40" class="yt" font-size="9.0px" text-anchor="end">10</text>
<line x1="32.80" y1="260.60" x2="37.50" y2="260.60" stroke="#000" stroke-width="1.6"/>
<text x="32.90" y="263.90" class="yt" font-size="9.0px" text-anchor="end">20</text>
<line x1="32.80" y1="240.10" x2="37.50" y2="240.10" stroke="#000" stroke-width="1.6"/>
<text x="32.90" y="243.40" class="yt" font-size="9.0px" text-anchor="end">30</text>
<line x1="32.80" y1="219.60" x2="37.50" y2="219.60" stroke="#000" stroke-width="1.6"/>
<text x="32.90" y="222.90" class="yt" font-size="9.0px" text-anchor="end">40</text>
<line x1="32.80" y1="199.10" x2="37.50" y2="199.10" stroke="#000" stroke-width="1.6"/>
<text x="32.90" y="202.40" class="yt" font-size="9.0px" text-anchor="end">50</text>
<line x1="32.80" y1="178.60" x2="37.50" y2="178.60" stroke="#000" stroke-width="1.6"/>
<text x="32.90" y="181.90" class="yt" font-size="9.0px" text-anchor="end">60</text>
<line x1="46.88" y1="295.25" x2="46.88" y2="296.25" stroke="#000" stroke-width="1.4"/>
<line x1="43.08" y1="295.25" x2="50.67" y2="295.25" stroke="#000" stroke-width="1.5"/>
<rect x="40.00" y="296.25" width="13.75" height="5.35" fill="#000"/>
<line x1="46.88" y1="301.60" x2="46.88" y2="306.00" stroke="#000" stroke-width="1.6"/>
<line x1="64.88" y1="296.50" x2="64.88" y2="297.00" stroke="#000" stroke-width="1.4"/>
<line x1="61.08" y1="296.50" x2="68.67" y2="296.50" stroke="#000" stroke-width="1.5"/>
<rect x="58.75" y="297.75" width="12.25" height="3.85" fill="#fff" stroke="#000" stroke-width="1.5"/>
<line x1="64.88" y1="301.60" x2="64.88" y2="306.00" stroke="#000" stroke-width="1.6"/>
<line x1="83.12" y1="294.30" x2="83.12" y2="295.00" stroke="#000" stroke-width="1.4"/>
<line x1="79.33" y1="294.30" x2="86.92" y2="294.30" stroke="#000" stroke-width="1.5"/>
<rect x="76.25" y="295.00" width="13.75" height="6.60" fill="#000"/>
<line x1="83.12" y1="301.60" x2="83.12" y2="306.00" stroke="#000" stroke-width="1.6"/>
<line x1="101.38" y1="295.70" x2="101.38" y2="296.25" stroke="#000" stroke-width="1.4"/>
<line x1="97.58" y1="295.70" x2="105.17" y2="295.70" stroke="#000" stroke-width="1.5"/>
<rect x="95.25" y="297.00" width="12.25" height="4.60" fill="#fff" stroke="#000" stroke-width="1.5"/>
<line x1="101.38" y1="301.60" x2="101.38" y2="306.00" stroke="#000" stroke-width="1.6"/>
<line x1="119.88" y1="284.25" x2="119.88" y2="287.00" stroke="#000" stroke-width="1.4"/>
<line x1="116.08" y1="284.25" x2="123.67" y2="284.25" stroke="#000" stroke-width="1.5"/>
<rect x="113.00" y="287.00" width="13.75" height="14.60" fill="#000"/>
<line x1="119.88" y1="301.60" x2="119.88" y2="306.00" stroke="#000" stroke-width="1.6"/>
<line x1="138.12" y1="287.00" x2="138.12" y2="290.00" stroke="#000" stroke-width="1.4"/>
<line x1="134.32" y1="287.00" x2="141.93" y2="287.00" stroke="#000" stroke-width="1.5"/>
<rect x="132.00" y="290.75" width="12.25" height="10.85" fill="#fff" stroke="#000" stroke-width="1.5"/>
<line x1="138.12" y1="301.60" x2="138.12" y2="306.00" stroke="#000" stroke-width="1.6"/>
<line x1="156.88" y1="293.00" x2="156.88" y2="293.75" stroke="#000" stroke-width="1.4"/>
<line x1="153.07" y1="293.00" x2="160.68" y2="293.00" stroke="#000" stroke-width="1.5"/>
<rect x="150.00" y="293.75" width="13.75" height="7.85" fill="#000"/>
<line x1="156.88" y1="301.60" x2="156.88" y2="306.00" stroke="#000" stroke-width="1.6"/>
<line x1="175.12" y1="294.00" x2="175.12" y2="294.50" stroke="#000" stroke-width="1.4"/>
<line x1="171.32" y1="294.00" x2="178.93" y2="294.00" stroke="#000" stroke-width="1.5"/>
<rect x="169.00" y="295.25" width="12.25" height="6.35" fill="#fff" stroke="#000" stroke-width="1.5"/>
<line x1="175.12" y1="301.60" x2="175.12" y2="306.00" stroke="#000" stroke-width="1.6"/>
<line x1="193.88" y1="196.25" x2="193.88" y2="223.00" stroke="#000" stroke-width="1.4"/>
<line x1="190.07" y1="196.25" x2="197.68" y2="196.25" stroke="#000" stroke-width="1.5"/>
<rect x="187.00" y="223.00" width="13.75" height="78.60" fill="#000"/>
<line x1="193.88" y1="301.60" x2="193.88" y2="306.00" stroke="#000" stroke-width="1.6"/>
<line x1="211.88" y1="229.25" x2="211.88" y2="247.50" stroke="#000" stroke-width="1.4"/>
<line x1="208.07" y1="229.25" x2="215.68" y2="229.25" stroke="#000" stroke-width="1.5"/>
<rect x="205.75" y="248.25" width="12.25" height="53.35" fill="#fff" stroke="#000" stroke-width="1.5"/>
<line x1="211.88" y1="301.60" x2="211.88" y2="306.00" stroke="#000" stroke-width="1.6"/>
<text class="xl" text-anchor="end" letter-spacing="-0.1" transform="translate(49.50,317.40) rotate(-45)">no Ab</text>
<text class="xl" text-anchor="end" letter-spacing="-0.1" transform="translate(86.90,318.00) rotate(-45)">CD56</text>
<text class="xl" text-anchor="end" letter-spacing="-0.1" transform="translate(124.00,318.00) rotate(-45)">CD16</text>
<text class="xl" text-anchor="end" letter-spacing="-0.1" transform="translate(160.50,318.00) rotate(-45)">CD95</text>
<text class="xl" text-anchor="end" letter-spacing="-0.3" transform="translate(196.90,318.40) rotate(-45)">PMA/iono</text>
<text class="yl" font-size="10.0px" word-spacing="0.00" text-anchor="middle" transform="translate(17.20,240.30) rotate(-90)">% of Annexin V+ NK cells</text>
<line x1="262.00" y1="174.70" x2="262.00" y2="302.40" stroke="#000" stroke-width="1.9"/>
<line x1="261.10" y1="301.50" x2="451.30" y2="301.50" stroke="#000" stroke-width="1.8"/>
<line x1="256.60" y1="301.50" x2="262.00" y2="301.50" stroke="#000" stroke-width="1.6"/>
<text x="256.70" y="304.80" class="yt" font-size="9.4px" text-anchor="end">0</text>
<line x1="256.60" y1="280.50" x2="262.00" y2="280.50" stroke="#000" stroke-width="1.6"/>
<text x="256.70" y="283.80" class="yt" font-size="9.4px" text-anchor="end">10</text>
<line x1="256.60" y1="259.50" x2="262.00" y2="259.50" stroke="#000" stroke-width="1.6"/>
<text x="256.70" y="262.80" class="yt" font-size="9.4px" text-anchor="end">20</text>
<line x1="256.60" y1="238.50" x2="262.00" y2="238.50" stroke="#000" stroke-width="1.6"/>
<text x="256.70" y="241.80" class="yt" font-size="9.4px" text-anchor="end">30</text>
<line x1="256.60" y1="217.50" x2="262.00" y2="217.50" stroke="#000" stroke-width="1.6"/>
<text x="256.70" y="220.80" class="yt" font-size="9.4px" text-anchor="end">40</text>
<line x1="256.60" y1="196.50" x2="262.00" y2="196.50" stroke="#000" stroke-width="1.6"/>
<text x="256.70" y="199.80" class="yt" font-size="9.4px" text-anchor="end">50</text>
<line x1="256.60" y1="175.50" x2="262.00" y2="175.50" stroke="#000" stroke-width="1.6"/>
<text x="256.70" y="178.80" class="yt" font-size="9.4px" text-anchor="end">60</text>
<line x1="271.38" y1="289.50" x2="271.38" y2="291.50" stroke="#000" stroke-width="1.4"/>
<line x1="267.57" y1="289.50" x2="275.18" y2="289.50" stroke="#000" stroke-width="1.5"/>
<rect x="264.50" y="291.50" width="13.75" height="10.00" fill="#000"/>
<line x1="271.38" y1="301.50" x2="271.38" y2="305.90" stroke="#000" stroke-width="1.6"/>
<line x1="290.12" y1="295.00" x2="290.12" y2="295.75" stroke="#000" stroke-width="1.4"/>
<line x1="286.32" y1="295.00" x2="293.93" y2="295.00" stroke="#000" stroke-width="1.5"/>
<rect x="284.00" y="296.50" width="12.25" height="5.00" fill="#fff" stroke="#000" stroke-width="1.5"/>
<line x1="290.12" y1="301.50" x2="290.12" y2="305.90" stroke="#000" stroke-width="1.6"/>
<line x1="308.88" y1="285.25" x2="308.88" y2="287.75" stroke="#000" stroke-width="1.4"/>
<line x1="305.07" y1="285.25" x2="312.68" y2="285.25" stroke="#000" stroke-width="1.5"/>
<rect x="302.00" y="287.75" width="13.75" height="13.75" fill="#000"/>
<line x1="308.88" y1="301.50" x2="308.88" y2="305.90" stroke="#000" stroke-width="1.6"/>
<line x1="327.62" y1="294.25" x2="327.62" y2="295.25" stroke="#000" stroke-width="1.4"/>
<line x1="323.82" y1="294.25" x2="331.43" y2="294.25" stroke="#000" stroke-width="1.5"/>
<rect x="321.50" y="296.00" width="12.25" height="5.50" fill="#fff" stroke="#000" stroke-width="1.5"/>
<line x1="327.62" y1="301.50" x2="327.62" y2="305.90" stroke="#000" stroke-width="1.6"/>
<line x1="346.38" y1="277.50" x2="346.38" y2="280.00" stroke="#000" stroke-width="1.4"/>
<line x1="342.57" y1="277.50" x2="350.18" y2="277.50" stroke="#000" stroke-width="1.5"/>
<rect x="339.50" y="280.00" width="13.75" height="21.50" fill="#000"/>
<line x1="346.38" y1="301.50" x2="346.38" y2="305.90" stroke="#000" stroke-width="1.6"/>
<line x1="366.12" y1="285.75" x2="366.12" y2="289.00" stroke="#000" stroke-width="1.4"/>
<line x1="362.32" y1="285.75" x2="369.93" y2="285.75" stroke="#000" stroke-width="1.5"/>
<rect x="360.00" y="289.75" width="12.25" height="11.75" fill="#fff" stroke="#000" stroke-width="1.5"/>
<line x1="366.12" y1="301.50" x2="366.12" y2="305.90" stroke="#000" stroke-width="1.6"/>
<line x1="384.88" y1="265.25" x2="384.88" y2="267.50" stroke="#000" stroke-width="1.4"/>
<line x1="381.07" y1="265.25" x2="388.68" y2="265.25" stroke="#000" stroke-width="1.5"/>
<rect x="378.00" y="267.50" width="13.75" height="34.00" fill="#000"/>
<line x1="384.88" y1="301.50" x2="384.88" y2="305.90" stroke="#000" stroke-width="1.6"/>
<line x1="403.62" y1="282.00" x2="403.62" y2="284.50" stroke="#000" stroke-width="1.4"/>
<line x1="399.82" y1="282.00" x2="407.43" y2="282.00" stroke="#000" stroke-width="1.5"/>
<rect x="397.50" y="285.25" width="12.25" height="16.25" fill="#fff" stroke="#000" stroke-width="1.5"/>
<line x1="403.62" y1="301.50" x2="403.62" y2="305.90" stroke="#000" stroke-width="1.6"/>
<line x1="422.38" y1="180.75" x2="422.38" y2="197.50" stroke="#000" stroke-width="1.4"/>
<line x1="418.57" y1="180.75" x2="426.18" y2="180.75" stroke="#000" stroke-width="1.5"/>
<rect x="415.50" y="197.50" width="13.75" height="104.00" fill="#000"/>
<line x1="422.38" y1="301.50" x2="422.38" y2="305.90" stroke="#000" stroke-width="1.6"/>
<line x1="441.12" y1="280.00" x2="441.12" y2="284.00" stroke="#000" stroke-width="1.4"/>
<line x1="437.32" y1="280.00" x2="444.93" y2="280.00" stroke="#000" stroke-width="1.5"/>
<rect x="435.00" y="284.75" width="12.25" height="16.75" fill="#fff" stroke="#000" stroke-width="1.5"/>
<line x1="441.12" y1="301.50" x2="441.12" y2="305.90" stroke="#000" stroke-width="1.6"/>
<text class="xl" text-anchor="end" letter-spacing="-0.1" transform="translate(274.30,317.70) rotate(-45)">No Ab</text>
<text class="xl" text-anchor="end" letter-spacing="-0.1" transform="translate(312.10,317.50) rotate(-45)">mIgG1</text>
<text class="xl" text-anchor="end" letter-spacing="-0.1" transform="translate(349.60,318.00) rotate(-45)">CD16</text>
<text class="xl" text-anchor="end" letter-spacing="-0.1" transform="translate(388.30,318.50) rotate(-45)">CD95</text>
<text class="xl" text-anchor="end" letter-spacing="-0.3" transform="translate(425.60,317.80) rotate(-45)">PMA/iono</text>
<text class="yl" font-size="10.0px" word-spacing="0.95" text-anchor="middle" transform="translate(241.20,239.00) rotate(-90)">% of Annexin V + T cells</text>
<text x="357.2" y="269.8" class="xl" text-anchor="middle">*</text>
<text x="393.5" y="252.6" class="xl" text-anchor="middle">*</text>
<text x="434.6" y="175.6" class="xl" text-anchor="middle">**</text>
</svg></body></html>
